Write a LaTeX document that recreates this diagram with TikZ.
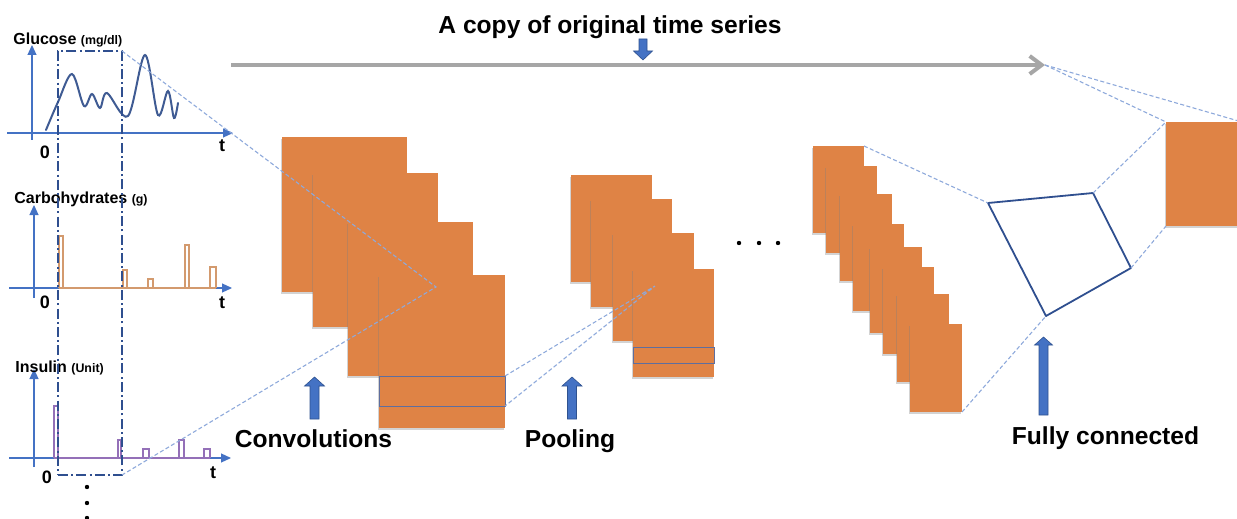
\documentclass[tikz,border=0pt]{standalone}
\usepackage{fontspec}
\setmainfont{Liberation Sans}
\usetikzlibrary{arrows.meta,fit,shadows}

\definecolor{mapfill}{HTML}{DF8345}
\definecolor{axisblue}{HTML}{4472C4}
\definecolor{curveblue}{HTML}{3F5B93}
\definecolor{winblue}{HTML}{2F4F8F}
\definecolor{projblue}{HTML}{8EA9DB}
\definecolor{copygray}{HTML}{A6A6A6}
\definecolor{carbtan}{HTML}{D39A6E}
\definecolor{insviolet}{HTML}{9470B8}
\definecolor{stripline}{HTML}{5E6E9E}
\definecolor{arrowedge}{HTML}{2F528F}

% one feature map, given by its two corners
\newcommand\fmapnode[5]{\node[fmap, fit={(#2,#3) (#4,#5)}] (#1) {};}
% an upward block arrow: x, tip y, head-base y, bottom y, half shaft, half head
\newcommand\blockup[6]{\fill[blockarrow] (#1-#5,#4) -- (#1-#5,#3) -- (#1-#6,#3) -- (#1,#2)
  -- (#1+#6,#3) -- (#1+#5,#3) -- (#1+#5,#4) -- cycle;}
% a bar of an event series: left x, right x, top y, base y
\newcommand\eventbar[4]{\draw (#1,#4) -- (#1,#3) -- (#2,#3) -- (#2,#4);}

\begin{document}
\begin{tikzpicture}[x=0.5pt, y=-0.5pt,
  fmap/.style={fill=mapfill, draw=none, inner sep=0pt, outer sep=0pt,
    drop shadow={shadow xshift=-0.6pt, shadow yshift=-1pt, opacity=0.35}},
  strip/.style={draw=stripline, line width=0.5pt, fill=none, inner sep=0pt, outer sep=0pt},
  proj/.style={draw=projblue, line width=0.55pt, dash pattern=on 2pt off 1.2pt},
  window/.style={draw=winblue, line width=0.9pt, dash pattern=on 5pt off 1.6pt on 1pt off 1.6pt,
    inner sep=0pt, outer sep=0pt},
  axis/.style={draw=axisblue, line width=0.6pt, -{Triangle[length=5pt,width=4.5pt]}},
  copyline/.style={draw=copygray, line width=2pt, -{Straight Barb[length=6pt,width=9pt]}},
  blockarrow/.style={fill=axisblue, draw=arrowedge, line width=0.3pt},
  title/.style={font=\fontsize{12.3}{14}\selectfont\bfseries, inner sep=0pt},
  stage/.style={font=\fontsize{12.3}{14}\selectfont\bfseries, inner sep=0pt, anchor=base},
  series/.style={font=\fontsize{8}{9}\selectfont\bfseries, inner sep=0pt, anchor=base west},
  tick/.style={font=\fontsize{9}{10}\selectfont\bfseries, inner sep=0pt},
  dot/.style={fill=black, draw=none}
]
\useasboundingbox (0,0) rectangle (1237,519);

% ---------------- input series ----------------
% glucose
\draw[axis] (32,140) -- (32,45);
\draw[axis] (7,133) -- (233,133);
\node[series] (glab) at (13,45) {Glucose {\fontsize{6.2}{7}\selectfont (mg/dl)}};
\node[tick] (g0) at (45,152) {0};
\node[tick] (gt) at (222,146) {t};
\draw[curveblue, line width=1pt, line cap=round]
  plot[smooth, tension=0.55] coordinates {(46,130) (58,102) (72,74) (84,106) (92,94)
  (100,108) (107,93) (128,116) (145,55) (158,115) (168,91) (174,118) (178,103)};

% carbohydrates
\draw[axis] (34,298) -- (34,205);
\draw[axis] (9,288) -- (232,288);
\node[series] (clab) at (14,203) {Carbohydrates {\fontsize{6.2}{7}\selectfont (g)}};
\node[tick] (c0) at (45,302) {0};
\node[tick] (ct) at (222,303) {t};
\begin{scope}[draw=carbtan, line width=0.7pt]
  \draw (59,288) -- (216,288);
  \eventbar{59}{63}{236}{288}
  \eventbar{123}{127}{270}{288}
  \eventbar{148}{153}{279}{288}
  \eventbar{185}{189}{245}{288}
  \eventbar{210}{216}{267}{288}
\end{scope}

% insulin
\draw[axis] (34,467) -- (34,369);
\draw[axis] (9,458) -- (231,458);
\node[series] (ilab) at (15,372) {Insulin {\fontsize{6.2}{7}\selectfont (Unit)}};
\node[tick] (i0) at (47,477) {0};
\node[tick] (it) at (213,473) {t};
\begin{scope}[draw=insviolet, line width=0.7pt]
  \draw (54,458) -- (210,458);
  \eventbar{54}{58}{406}{458}
  \eventbar{118}{121}{440}{458}
  \eventbar{143}{149}{449}{458}
  \eventbar{179}{184}{440}{458}
  \eventbar{204}{210}{449}{458}
\end{scope}

% more series below
\fill[dot] (87,487) circle (2.2);
\fill[dot] (87,503) circle (2.2);
\fill[dot] (87,518) circle (2.2);

% sliding window over all series
\node[window, fit={(58,51) (122,475)}] (win) {};

% ---------------- convolution maps ----------------
\fmapnode{r1}{282}{137}{407}{292}
\fmapnode{r2}{313}{173}{438}{327}
\fmapnode{r3}{348}{222}{473}{376}
\fmapnode{r4}{379}{275}{505}{428}
\node[strip, fit={(379,376) (505,406)}] (rstrip) {};

% ---------------- pooling maps ----------------
\fmapnode{p1}{571}{175}{652}{282}
\fmapnode{p2}{591}{199}{672}{307}
\fmapnode{p3}{613}{233}{694}{341}
\fmapnode{p4}{633}{269}{714}{377}
\node[strip, fit={(633,347) (714,363)}] (pstrip) {};

% further layers
\fill[dot] (739,243) circle (2.2);
\fill[dot] (759,243) circle (2.2);
\fill[dot] (778,243) circle (2.2);

% ---------------- last feature maps ----------------
\fmapnode{s1}{813}{146}{864}{233}
\fmapnode{s2}{826}{166}{877}{253}
\fmapnode{s3}{840}{194}{892}{281}
\fmapnode{s4}{853}{224}{904}{311}
\fmapnode{s5}{870}{247}{922}{333}
\fmapnode{s6}{883}{267}{934}{354}
\fmapnode{s7}{897}{294}{949}{382}
\fmapnode{s8}{910}{324}{962}{412}

% fully connected layer and output
\coordinate (q1) at (988,203);
\coordinate (q2) at (1093,193);
\coordinate (q3) at (1131,268);
\coordinate (q4) at (1046,316);
\draw[winblue, line width=0.9pt, line join=round] (q1) -- (q2) -- (q3) -- (q4) -- cycle;
\fmapnode{out}{1166}{122}{1242}{226}

% ---------------- projections ----------------
\coordinate (k1) at (436,287);
\coordinate (k2) at (655,286);
\draw[proj] (win.north east) -- (k1) -- (win.south east);
\draw[proj] (rstrip.north east) -- (k2) -- (rstrip.south east);
\draw[proj] (s1.north east) -- (q1);
\draw[proj] (s8.south east) -- (q4);
\draw[proj] (q2) -- (out.north west);
\draw[proj] (q3) -- (out.south west);

% ---------------- copy of the original series ----------------
\coordinate (cpL) at (231,65);
\coordinate (cpR) at (1045,65);
\draw[copyline] (cpL) -- (cpR);
\draw[proj] (cpR) -- (out.north west);
\draw[proj] (cpR) -- (out.north east);
\node[title] (copytxt) at (610,27) {A copy of original time series};
\fill[blockarrow] (639,39) -- (647,39) -- (647,51) -- (652.5,51) -- (643,60) -- (633.5,51) -- (639,51) -- cycle;

% ---------------- stage labels ----------------
\blockup{314.5}{377}{386}{419}{4.5}{10}
\blockup{572}{377}{386}{419}{4.5}{10}
\blockup{1043.5}{337}{345}{415}{4.5}{9}
\node[stage] (convtxt) at (313.5,447) {Convolutions};
\node[stage] (pooltxt) at (570,447) {Pooling};
\node[stage] (fctxt) at (1105.5,444) {Fully connected};
\end{tikzpicture}
\end{document}
